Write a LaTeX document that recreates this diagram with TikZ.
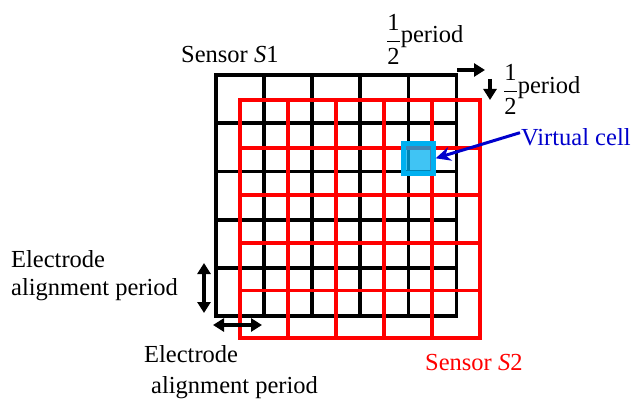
\documentclass[tikz,border=0pt]{standalone}
\usepackage{fontspec}
\setmainfont{Liberation Serif}
\usepackage{amsmath}
\usetikzlibrary{arrows.meta}
\definecolor{cellblue}{RGB}{0,176,240}
\definecolor{textblue}{RGB}{0,0,204}
\newcommand{\halfper}{\raisebox{-4.5pt}{$\dfrac{\mbox{1}}{\mbox{2}}$}period}
\tikzset{
	gridSone/.style={line width=3.8pt, line cap=rect, black},
	gridStwo/.style={line width=3.8pt, line cap=rect, red},
	halfarrow/.style={line width=3.3pt, -{Triangle[length=11pt,width=13pt]}},
	periodarrow/.style={line width=3.3pt, {Triangle[length=11pt,width=13pt]}-{Triangle[length=11pt,width=13pt]}},
	txt/.style={font=\fontsize{24.5}{29}\selectfont, inner sep=0pt},
}
\begin{document}
\begin{tikzpicture}[x=1pt,y=-1pt]
	\useasboundingbox (0,0) rectangle (636,401);
	
	% sensor S1
	\foreach \i in {0,...,5} {
		\draw[gridSone] (216+48.1*\i,75) -- (216+48.1*\i,316);
		\draw[gridSone] (216,75+48.2*\i) -- (456.5,75+48.2*\i);
	}
	% sensor S2, shifted by half a period
	\foreach \i in {0,...,5} {
		\draw[gridStwo] (240+48*\i,100) -- (240+48*\i,338);
		\draw[gridStwo] (240,100+47.6*\i) -- (480,100+47.6*\i);
	}
	
	\node[draw=cellblue, fill=cellblue, fill opacity=0.75, line width=5pt,
		minimum size=29.7pt, inner sep=0pt] (cell) at (418.3,158.3) {};
	
	\node[txt, anchor=base west] (sone) at (181,63) {Sensor \textit{S}1};
	\node[txt, anchor=base west] (halfx) at (386,43) {\halfper};
	\node[txt, anchor=base west] (halfy) at (503,93) {\halfper};
	\node[txt, anchor=base west, text=textblue] (vcell) at (521,145) {Virtual cell};
	\node[txt, anchor=base west, text=red] (stwo) at (425,370) {Sensor \textit{S}2};
	% multi-line nodes: base is the last line
	\node[txt, anchor=base west, align=left, font=\fontsize{24.5}{28}\selectfont] (eleft) at (11,295) {Electrode\\alignment period};
	\node[txt, anchor=base west, align=left, font=\fontsize{24.5}{30.5}\selectfont] (ebottom) at (144,393) {Electrode\\\hspace*{7pt}alignment period};
	
	\coordinate (hx0) at (457,70);
	\coordinate (hx1) at (485,70);
	\coordinate (hy0) at (490,79);
	\coordinate (hy1) at (490,100);
	\coordinate (py0) at (204,263);
	\coordinate (py1) at (204,313);
	\coordinate (px0) at (213,325);
	\coordinate (px1) at (262,325);
	
	\draw[halfarrow] (hx0) -- (hx1);
	\draw[halfarrow] (hy0) -- (hy1);
	\draw[periodarrow] (py0) -- (py1);
	\draw[periodarrow] (px0) -- (px1);
	\draw[line width=3pt, textblue, -{Stealth[length=15pt,width=14pt]}] (vcell.west) ++(-1,-4) -- (cell.east);
\end{tikzpicture}
\end{document}
